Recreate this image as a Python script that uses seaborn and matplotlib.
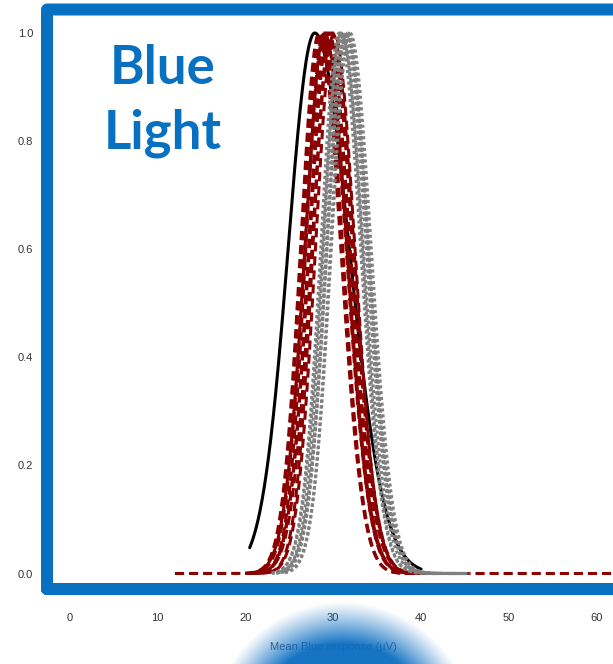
import numpy as np
import pandas as pd
import matplotlib
matplotlib.use("Agg")
import matplotlib.pyplot as plt
from matplotlib.patches import PathPatch
from matplotlib.path import Path
import seaborn as sns

# ---- data ----
black_peak = [27.9]
black_sd_left = [3.0]
black_sd_right = [3.9]
black_lo = [20.5]
black_hi = [40.0]

red_peak = [28.4, 28.7, 28.9, 29.1, 29.3, 29.5, 29.7, 29.9, 30.1, 29.0]
red_sd_left = [2.1, 2.2, 2.0, 2.3, 2.1, 2.2, 2.0, 2.3, 2.1, 2.2]
red_sd_right = [2.45, 2.35, 2.55, 2.45, 2.6, 2.35, 2.5, 2.45, 2.35, 2.55]
red_lo = [12.0, 20.0, 20.5, 21.0, 20.0, 21.5, 21.0, 22.0, 22.0, 20.5]
red_hi = [66.0, 40.0, 40.5, 41.0, 41.0, 41.5, 42.0, 42.0, 42.5, 40.5]

gray_peak = [30.7, 30.9, 31.0, 31.2, 31.4, 31.5, 31.7, 31.9]
gray_sd_left = [2.1, 2.0, 2.2, 2.0, 2.1, 2.2, 2.0, 2.1]
gray_sd_right = [2.4, 2.5, 2.3, 2.55, 2.4, 2.5, 2.3, 2.4]
gray_lo = [23.0, 23.0, 23.5, 23.5, 24.0, 24.0, 24.5, 24.5]
gray_hi = [44.0, 44.5, 44.5, 45.0, 45.0, 45.0, 45.5, 45.5]

x_ticks = [0, 10, 20, 30, 40, 50, 60]
y_ticks = [0.0, 0.2, 0.4, 0.6, 0.8, 1.0]
x_label = "Mean Blue response (µV)"
title_lines = ["Blue", "Light"]


def curves(peaks, sl, sr, lo, hi):
    rows = []
    for i, (m, a, b, l, h) in enumerate(zip(peaks, sl, sr, lo, hi)):
        xs = np.linspace(l, h, 400)
        s = np.where(xs < m, a, b)
        ys = np.exp(-0.5 * ((xs - m) / s) ** 2)
        rows.append(pd.DataFrame({"x": xs, "y": ys, "curve": i}))
    return pd.concat(rows, ignore_index=True)


df_black = curves(black_peak, black_sd_left, black_sd_right, black_lo, black_hi)
df_red = curves(red_peak, red_sd_left, red_sd_right, red_lo, red_hi)
df_gray = curves(gray_peak, gray_sd_left, gray_sd_right, gray_lo, gray_hi)

# ---- figure ----
W, H = 613, 664
sns.set_style("white")
plt.rcParams["font.family"] = ["Liberation Sans", "DejaVu Sans"]
fig = plt.figure(figsize=(W / 100, H / 100), dpi=100)

ax_l, ax_r, ax_t, ax_b = 47, 619, 9.5, 589
ax = fig.add_axes([ax_l / W, 1 - ax_b / H, (ax_r - ax_l) / W, (ax_b - ax_t) / H])

px_per_unit = 8.79
x0 = 69.5
ax.set_xlim((ax_l - x0) / px_per_unit, (ax_r - x0) / px_per_unit)
y_one, y_zero = 33.0, 573.5
ax.set_ylim((y_zero - ax_b) / (y_zero - y_one), (y_zero - ax_t) / (y_zero - y_one))

lw = 2.2
sns.lineplot(data=df_black, x="x", y="y", units="curve", estimator=None,
             color="black", lw=lw, ax=ax, legend=False, zorder=2)
sns.lineplot(data=df_red, x="x", y="y", units="curve", estimator=None,
             color="#8b0000", lw=lw, linestyle=(0, (3.0, 1.6)), ax=ax,
             legend=False, zorder=3)
sns.lineplot(data=df_gray, x="x", y="y", units="curve", estimator=None,
             color="#7f7f7f", lw=lw, linestyle=(0, (1.0, 0.9)), ax=ax,
             legend=False, zorder=4)

for sp in ax.spines.values():
    sp.set_visible(False)

blue = "#0870c0"
frame_path = Path([(0, 0), (0, 1), (1, 1), (1, 0), (0, 0)],
                  [Path.MOVETO, Path.LINETO, Path.LINETO, Path.LINETO, Path.CLOSEPOLY])
frame = PathPatch(frame_path, transform=ax.transAxes, fill=False,
                  edgecolor=blue, lw=12 * 0.72, joinstyle="round",
                  capstyle="round", clip_on=False, zorder=20, snap=False)
ax.add_patch(frame)

ax.set_xticks(x_ticks)
ax.set_xticklabels([str(v) for v in x_ticks])
ax.set_yticks(y_ticks)
ax.set_yticklabels([f"{v:.1f}" for v in y_ticks])
ax.tick_params(axis="x", length=10, width=1.2, color="#555555", pad=7,
               labelsize=8, labelcolor="#333333", direction="out")
ax.tick_params(axis="y", length=0, pad=10, labelsize=8, labelcolor="#333333")
ax.set_xlabel(x_label, fontsize=8, color="#4a5766", labelpad=14)
ax.set_ylabel("")

# title
for line, base in zip(title_lines, [84, 148]):
    fig.text(163 / W, 1 - base / H, line, ha="center", va="baseline",
             fontsize=38, fontweight="bold", color=blue,
             family=["Lato", "DejaVu Sans"])

# blurred blue circle decoration at bottom
yy, xx = np.mgrid[0:H, 0:W]
r = np.hypot(xx - 342, yy - 733)
t = np.clip(1 - (r - 90) / 42, 0, 1)
alpha = np.where(r <= 90, 0.95, 0.95 * t ** 1.1)
img = np.zeros((H, W, 4))
img[..., 0] = 0.04
img[..., 1] = 0.43
img[..., 2] = 0.76
img[..., 3] = alpha
fig.figimage(img, xo=0, yo=0, origin="upper", zorder=30)

fig.savefig("out.png", dpi=100)
